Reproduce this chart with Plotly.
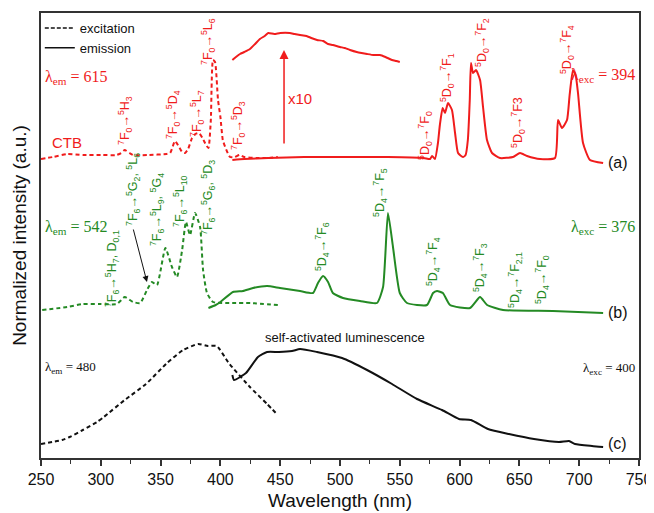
import plotly.graph_objects as go

RED = "#f01c1c"
GREEN = "#248a24"
BLACK = "#111111"

# ---- (a) Eu-doped: excitation (λem=615) ----
a_exc_x = [250, 260, 272, 285, 300, 313, 317, 320, 324, 327, 340, 355, 358, 360, 362, 365, 368, 370.4, 373, 376.3,
           379, 382, 385, 388, 390, 392, 393.8, 395.5, 398, 400, 402, 404, 408, 412, 416, 420, 430, 440, 448]
a_exc_y = [299, 301, 304, 303, 303, 303, 305, 308, 305, 303, 303, 304, 305, 311, 317, 312, 306, 305, 309, 320,
           324, 325, 320, 313, 310, 338, 398, 396, 358, 341, 318, 311, 301, 301, 303, 301, 300, 300, 301]
# ---- (a) emission (λexc=394) ----
a_em_x = [410, 420, 440, 470, 500, 540, 570, 575.3, 577, 579.4, 581.9, 583.5, 585.8, 587.8, 590.3, 593.6, 596.2,
          598.7, 602.8, 605, 606.9, 608.5, 609.5, 611.2, 613.7, 617.1, 619.6, 622.9, 627.1, 633.8, 644.6, 650.5,
          656.4, 667.2, 679.8, 682.3, 685.6, 689.8, 692, 694.8, 697, 699, 703.2, 709, 720]
a_em_y = [298, 299, 300, 301, 301, 301, 300, 299, 302, 299, 315, 333, 350, 345, 355, 348, 325,
          305, 301, 303, 318, 358, 395, 385, 388, 378, 351, 318, 305, 300, 301, 305,
          302, 299, 300, 338, 330, 338, 363, 388, 383, 365, 315, 298, 295]
# ---- (a) emission x10 (410-550 nm) ----
a_x10_x = [410, 413, 416.4, 420, 424.7, 429, 433, 437, 440, 445, 450, 458, 462, 466.6, 472, 476, 480.8, 486, 490,
           494, 500, 504, 508.4, 514, 518, 522.6, 528, 533.4, 538, 543.5, 547, 550]
a_x10_y = [398, 401, 404, 406, 409, 414, 419, 422, 425, 424, 425, 425, 424, 423, 422, 420, 418, 417, 414,
           413, 411, 410, 408, 406, 405, 404, 403, 403, 401, 398, 397, 396]

# ---- (b) Tb-doped: excitation (λem=542) ----
b_exc_x = [251, 272, 285, 299, 313.5, 320, 327, 333, 338.6, 342.8, 347, 354, 359.5, 363.7, 368, 371.2, 374.6,
           378.8, 383, 385.5, 388.8, 393.8, 410, 425, 448]
b_exc_y = [148, 151, 154, 154, 154, 161, 156, 155, 168, 176, 173, 210, 191, 181, 208, 236, 223,
           245, 231, 188, 165, 156, 155, 155, 153]
# ---- (b) emission (λexc=376) ----
b_em_x = [390, 396, 400, 410.5, 418.9, 427.3, 439, 449.8, 466.6, 477.4, 481.6, 485.8, 490, 494, 502.5, 516.7,
          530.9, 536, 540.1, 544.3, 550, 556, 572.7, 577.8, 581.1, 586, 592, 608.7, 617.1, 623, 636.3, 678, 720]
b_em_y = [150, 153, 156, 166, 167, 170, 172, 170, 167, 165, 175, 182, 176, 165, 160, 157,
          155, 171, 245, 211, 165, 155, 153, 165, 167, 165, 153, 150, 161, 153, 148, 147, 145]

# ---- (c) self-activated: excitation (λem=480) ----
c_exc_x = [250, 267.6, 274, 285, 296.8, 302.5, 320, 337.8, 355.4, 368.8, 381.3, 389.6, 397, 407, 424.7, 439, 448]
c_exc_y = [14, 18, 21, 28, 36, 41, 58, 74, 95, 108, 114, 112, 112, 95, 71, 54, 43]
# ---- (c) emission (λexc=400) ----
c_em_x = [410, 411.4, 421.4, 431.4, 439, 449, 459.9, 466.6, 480.8, 501.7, 522.6, 543.5, 564.4, 585.3, 599.5,
          609.5, 623.7, 641.3, 662.2, 683.1, 691.5, 696.5, 710.7, 720]
c_em_y = [83, 78, 85, 101, 106, 106, 107, 109, 106, 100, 88, 74, 59, 48, 39,
          38, 29, 24, 19, 16, 17, 14, 12, 11]

x_ticks = [250, 300, 350, 400, 450, 500, 550, 600, 650, 700, 750]

# transition labels: (text, x, y)
red_labels = [
    ("<sup>7</sup>F<sub>0</sub>→<sup>5</sup>H<sub>3</sub>", 320.2, 338),
    ("<sup>7</sup>F<sub>0</sub>→<sup>5</sup>D<sub>4</sub>", 360.4, 343),
    ("<sup>7</sup>F<sub>0</sub>→<sup>5</sup>L<sub>7</sub>", 380.4, 345),
    ("<sup>7</sup>F<sub>0</sub>→<sup>5</sup>L<sub>6</sub>", 389.6, 417),
    ("<sup>7</sup>F<sub>0</sub>→<sup>5</sup>D<sub>3</sub>", 414.7, 333),
    ("<sup>5</sup>D<sub>0</sub>→<sup>7</sup>F<sub>0</sub>", 571.0, 323),
    ("<sup>5</sup>D<sub>0</sub>→<sup>7</sup>F<sub>1</sub>", 589.5, 380),
    ("<sup>5</sup>D<sub>0</sub>→<sup>7</sup>F<sub>2</sub>", 618.7, 416),
    ("<sup>5</sup>D<sub>0</sub>→<sup>7</sup>F3", 648.8, 336),
    ("<sup>5</sup>D<sub>0</sub>→<sup>7</sup>F<sub>4</sub>", 689.8, 408),
]
green_labels = [
    ("<sup>7</sup>F<sub>6</sub>→<sup>5</sup>H<sub>7</sub>, D<sub>0,1</sub>", 309.4, 189),
    ("<sup>7</sup>F<sub>6</sub>→<sup>5</sup>G<sub>2</sub>, <sup>5</sup>L<sub>6</sub>", 326.9, 269),
    ("<sup>7</sup>F<sub>6</sub>→<sup>5</sup>L<sub>9</sub>, <sup>5</sup>G<sub>4</sub>", 347.0, 248),
    ("<sup>7</sup>F<sub>6</sub>→<sup>5</sup>L<sub>10</sub>", 366.2, 257),
    ("<sup>7</sup>F<sub>6</sub>→<sup>5</sup>G<sub>6</sub>, <sup>5</sup>D<sub>3</sub>", 389.6, 261),
    ("<sup>5</sup>D<sub>4</sub>→<sup>7</sup>F<sub>6</sub>", 485.0, 211),
    ("<sup>5</sup>D<sub>4</sub>→<sup>7</sup>F<sub>5</sub>", 533.4, 266),
    ("<sup>5</sup>D<sub>4</sub>→<sup>7</sup>F<sub>4</sub>", 577.8, 196),
    ("<sup>5</sup>D<sub>4</sub>→<sup>7</sup>F<sub>3</sub>", 617.1, 190),
    ("<sup>5</sup>D<sub>4</sub>→<sup>7</sup>F<sub>2,1</sub>", 646.3, 178),
    ("<sup>5</sup>D<sub>4</sub>→<sup>7</sup>F<sub>0</sub>", 668.9, 178),
]

SANS = "Liberation Sans, Arial, sans-serif"
SERIF = "Liberation Serif, Times New Roman, serif"
DASH = "4px,3px"
LABEL_SIZE = 12.5

fig = go.Figure()

def add_line(x, y, color, dash=None):
    fig.add_trace(go.Scatter(x=x, y=y, mode="lines", showlegend=False, hoverinfo="skip",
                             line=dict(color=color, width=2, dash=dash or "solid",
                                       shape="spline", smoothing=0.5)))

add_line(a_exc_x, a_exc_y, RED, DASH)
add_line(a_em_x, a_em_y, RED)
add_line(a_x10_x, a_x10_y, RED)
add_line(b_exc_x, b_exc_y, GREEN, DASH)
add_line(b_em_x, b_em_y, GREEN)
add_line(c_exc_x, c_exc_y, BLACK, DASH)
add_line(c_em_x, c_em_y, BLACK)

# legend entries
fig.add_trace(go.Scatter(x=[None], y=[None], mode="lines", name="excitation",
                         line=dict(color=BLACK, width=1.5, dash="4px,2px")))
fig.add_trace(go.Scatter(x=[None], y=[None], mode="lines", name="emission",
                         line=dict(color=BLACK, width=1.5)))

ann = []
for t, x, y in red_labels:
    ann.append(dict(text=t, x=x, y=y, textangle=-90, showarrow=False,
                    font=dict(family=SANS, size=LABEL_SIZE, color=RED)))
for t, x, y in green_labels:
    ann.append(dict(text=t, x=x, y=y, textangle=-90, showarrow=False,
                    font=dict(family=SANS, size=LABEL_SIZE, color=GREEN)))

def txt(t, x, y, color, size, family=SANS, xanchor="center"):
    ann.append(dict(text=t, x=x, y=y, showarrow=False, xanchor=xanchor,
                    font=dict(family=family, size=size, color=color)))

txt("CTB", 271.7, 316, RED, 15)
txt("x10", 466.6, 360, RED, 15)
txt("λ<sub>em</sub> = 615", 252, 381, RED, 16, SERIF, "left")
txt("λ<sub>exc</sub> = 394", 748, 383, RED, 16, SERIF, "right")
txt("λ<sub>em</sub> = 542", 252, 231, GREEN, 16, SERIF, "left")
txt("λ<sub>exc</sub> = 376", 748, 231, GREEN, 16, SERIF, "right")
txt("λ<sub>em</sub> = 480", 252, 91, BLACK, 13, SERIF, "left")
txt("λ<sub>exc</sub> = 400", 748, 90, BLACK, 13, SERIF, "right")
txt("(a)", 722, 296, BLACK, 16, SANS, "left")
txt("(b)", 722, 146, BLACK, 16, SANS, "left")
txt("(c)", 722, 15, BLACK, 16, SANS, "left")
txt("self-activated luminescence", 504.2, 121, BLACK, 13)

# arrows
ann.append(dict(x=453.2, y=408, ax=453.2, ay=313, axref="x", ayref="y", xref="x", yref="y",
                text="", showarrow=True, arrowhead=2, arrowsize=1.2, arrowwidth=1.5, arrowcolor=RED))
ann.append(dict(x=338.6, y=176, ax=326.9, ay=230, axref="x", ayref="y", xref="x", yref="y",
                text="", showarrow=True, arrowhead=2, arrowsize=1.2, arrowwidth=1, arrowcolor=BLACK))

# the page body has an 8px default margin, so the figure is sized/offset to land on the reference pixels
fig.update_layout(
    width=646, height=505,
    margin=dict(l=33, r=15, t=5, b=55),
    plot_bgcolor="white", paper_bgcolor="white",
    font=dict(family=SANS, color=BLACK),
    annotations=ann,
    showlegend=True,
    legend=dict(x=-0.002, y=1.0, xanchor="left", yanchor="top", bgcolor="rgba(0,0,0,0)",
                font=dict(family=SANS, size=13, color=BLACK), itemwidth=30,
                tracegroupgap=0),
    xaxis=dict(range=[250, 750], tickvals=x_ticks, ticks="outside", ticklen=6, tickwidth=1.5,
               tickcolor="#333", showline=True, linecolor="#333", linewidth=1.5, mirror=True,
               showgrid=False, zeroline=False, automargin=False,
               tickfont=dict(size=16, family=SANS, color=BLACK),
               minor=dict(dtick=25, tick0=250, ticks="outside", ticklen=4, tickwidth=1.2, tickcolor="#333"),
               title=dict(text="Wavelength (nm)", font=dict(size=19, family=SANS, color=BLACK), standoff=7)),
    yaxis=dict(range=[0, 445], showticklabels=False, ticks="", showline=True, linecolor="#333",
               linewidth=1.5, mirror=True, showgrid=False, zeroline=False, automargin=False,
               title=dict(text="Normalized intensity (a.u.)", font=dict(size=19, family=SANS, color=BLACK),
                          standoff=8)),
)

fig.write_html("out.html")
